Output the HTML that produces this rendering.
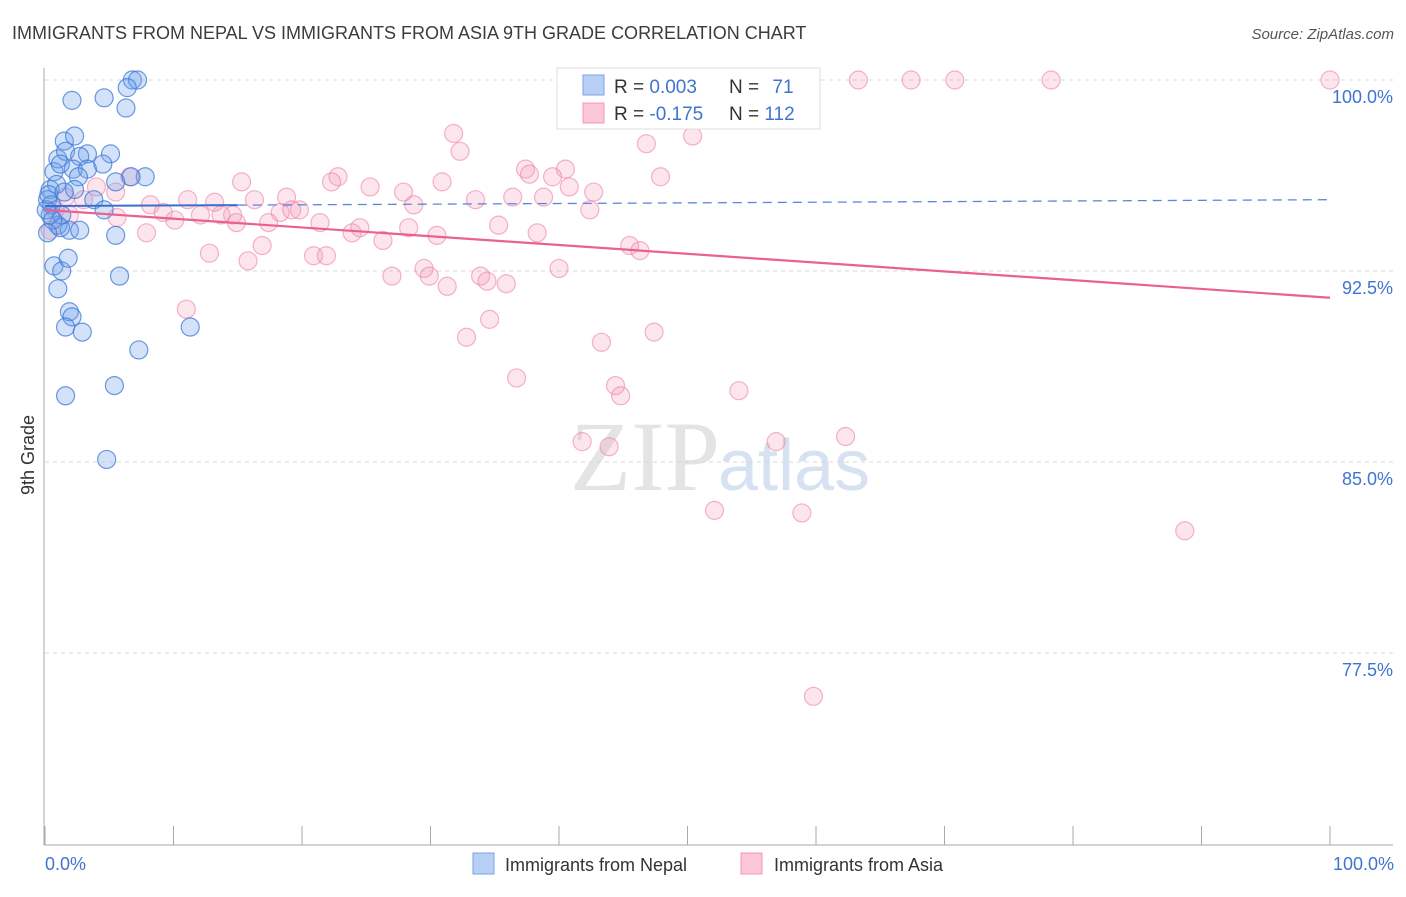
<!DOCTYPE html>
<html><head><meta charset="utf-8"><style>
body{margin:0;background:#fff;width:1406px;height:892px;overflow:hidden;font-family:"Liberation Sans",sans-serif;}
</style></head><body>
<svg id="chart" width="1406" height="892" xmlns="http://www.w3.org/2000/svg" font-family="Liberation Sans, sans-serif">
<text x="12" y="39" font-size="18" fill="#3c3c3c">IMMIGRANTS FROM NEPAL VS IMMIGRANTS FROM ASIA 9TH GRADE CORRELATION CHART</text>
<text x="1394" y="39" font-size="15" font-style="italic" fill="#555" text-anchor="end">Source: ZipAtlas.com</text>
<text x="720" y="490" font-size="100" font-family="Liberation Serif, serif" fill="#e4e4e4" text-anchor="end">ZIP</text>
<text x="718" y="490" font-size="72" fill="#d6e2f2">atlas</text>
<g id="grid"></g>
<g id="axes"></g>
<g id="pts"></g>
<g id="trends"></g>
<text transform="translate(34,455) rotate(-90)" font-size="18" fill="#333" text-anchor="middle">9th Grade</text>
<text x="45" y="870" font-size="18" fill="#3f74d0">0.0%</text>
<text x="1394" y="870" font-size="18" fill="#3f74d0" text-anchor="end">100.0%</text>
<g>
<rect x="557" y="68" width="263" height="61" fill="#fff" stroke="#ddd"/>
<rect x="583" y="75" width="21" height="20" fill="#b8d0f5" stroke="#7aa3e6"/>
<rect x="583" y="103" width="21" height="20" fill="#fbc7d7" stroke="#f19ab6"/>
<text x="614" y="93" font-size="19" fill="#333">R = <tspan fill="#3f74d0">0.003</tspan></text>
<text x="729" y="93" font-size="19" fill="#333">N = <tspan fill="#3f74d0" dx="8">71</tspan></text>
<text x="614" y="120" font-size="19" fill="#333">R = <tspan fill="#3f74d0">-0.175</tspan></text>
<text x="729" y="120" font-size="19" fill="#333">N = <tspan fill="#3f74d0">112</tspan></text>
</g>
<g>
<rect x="473" y="853" width="21" height="21" fill="#b8d0f5" stroke="#7aa3e6"/>
<text x="505" y="871" font-size="18" fill="#333">Immigrants from Nepal</text>
<rect x="741" y="853" width="21" height="21" fill="#fbc7d7" stroke="#f19ab6"/>
<text x="774" y="871" font-size="18" fill="#333">Immigrants from Asia</text>
</g>
</svg>
<script>
const yTicks=[100,92.5,85,77.5];
const yTickLabels=["100.0%","92.5%","85.0%","77.5%"];
const xTicks=[0,10,20,30,40,50,60,70,80,90,100];
const nepalX=[6.8,7.2,6.4,4.6,2.1,6.3,1.5,2.3,1.0,1.6,3.3,5.1,2.7,4.5,0.7,1.2,2.2,3.3,7.8,6.7,5.5,2.6,0.4,0.9,2.3,3.8,4.6,0.2,1.0,1.9,2.7,5.5,0.7,1.3,1.8,5.8,1.0,1.9,2.1,1.6,2.9,11.3,7.3,5.4,1.6,4.8,0.4,1.2,1.3,0.5,0.1,0.3,0.6,1.5,0.2];
const nepalY=[100.0,100.0,99.7,99.3,99.2,98.9,97.6,97.8,96.9,97.2,97.1,97.1,97.0,96.7,96.4,96.7,96.5,96.5,96.2,96.2,96.0,96.2,95.7,95.9,95.7,95.3,94.9,95.3,94.3,94.1,94.1,93.9,92.7,92.5,93.0,92.3,91.8,90.9,90.7,90.3,90.1,90.3,89.4,88.0,87.6,85.1,94.7,94.2,94.7,95.1,94.9,95.5,94.5,95.6,94.0];
const asiaX=[55.3,63.3,67.4,70.8,78.3,100,52.3,50.4,31.8,46.8,32.3,37.4,40.5,22.8,22.3,30.9,39.5,47.9,37.7,15.3,25.3,27.9,33.5,36.4,38.8,40.8,42.7,28.7,42.4,18.8,16.3,11.1,13.2,17.4,14.6,19.8,21.4,23.9,24.5,26.3,28.3,30.5,35.3,38.3,45.5,46.3,16.9,12.8,15.8,20.9,21.9,27.0,29.5,29.9,31.3,33.9,34.4,35.9,40.0,34.6,32.8,43.3,47.4,36.7,44.4,44.8,54.0,41.8,43.9,56.9,62.3,52.1,58.9,88.7,59.8,11.0,7.9,6.6,8.2,4.0,5.5,9.2,10.1,12.1,13.7,14.9,18.3,19.2,5.6,3.0,1.6,0.8,0.4,1.9];
const asiaY=[100,100,100,100,100,100,98.8,97.8,97.9,97.5,97.2,96.5,96.5,96.2,96.0,96.0,96.2,96.2,96.3,96.0,95.8,95.6,95.3,95.4,95.4,95.8,95.6,95.1,94.9,95.4,95.3,95.3,95.2,94.4,94.7,94.9,94.4,94.0,94.2,93.7,94.2,93.9,94.3,94.0,93.5,93.3,93.5,93.2,92.9,93.1,93.1,92.3,92.6,92.3,91.9,92.3,92.1,92.0,92.6,90.6,89.9,89.7,90.1,88.3,88.0,87.6,87.8,85.8,85.6,85.8,86.0,83.1,83.0,82.3,75.8,91.0,94.0,96.2,95.1,95.8,95.6,94.8,94.5,94.7,94.7,94.4,94.8,94.9,94.6,95.3,95.4,94.9,94.1,94.7];
const nepalTrend=[95.05,95.3];
const asiaTrend=[94.9,91.45];
const NS="http://www.w3.org/2000/svg";
const X0=45,X1=1330;
function xs(v){return X0+(X1-X0)*v/100;}
function ys(v){return 80+(100-v)*(191/7.5);}
function mk(tag,attrs,parent){const e=document.createElementNS(NS,tag);for(const k in attrs)e.setAttribute(k,attrs[k]);parent.appendChild(e);return e;}
const grid=document.getElementById('grid');
yTicks.forEach((t,i)=>{
  const l=mk('line',{x1:X0,x2:1393,y1:ys(t),y2:ys(t),stroke:'#d8d8d8','stroke-dasharray':'4,4'},grid);
  
  
  const tx=mk('text',{x:1393,y:ys(t)+23,'font-size':18,fill:'#3f74d0','text-anchor':'end'},grid);
  tx.textContent=yTickLabels[i];
  
  
});
const axes=document.getElementById('axes');
const ya=mk('line',{x1:44,x2:44,y1:68,y2:845,stroke:'#aaa'},axes);


const xa=mk('line',{x1:44,x2:1393,y1:845,y2:845,stroke:'#aaa'},axes);


xTicks.forEach(t=>{
  const l=mk('line',{x1:xs(t),x2:xs(t),y1:826,y2:845,stroke:'#aaa'},axes);
  
  
});
const pts=document.getElementById('pts');
asiaX.forEach((x,i)=>{
  const c=mk('circle',{cx:xs(x),cy:ys(asiaY[i]),r:9,fill:'rgba(244,150,180,0.25)',stroke:'rgba(236,130,165,0.6)','stroke-width':1.2},pts);
  
  
});
nepalX.forEach((x,i)=>{
  const c=mk('circle',{cx:xs(x),cy:ys(nepalY[i]),r:9,fill:'rgba(110,160,235,0.3)',stroke:'rgba(60,120,215,0.75)','stroke-width':1.2},pts);
  
  
});
const tr=document.getElementById('trends');
const nepalSplit=15;
const nyAt=p=>nepalTrend[0]+(nepalTrend[1]-nepalTrend[0])*p/100;
const nl1=mk('line',{x1:xs(0),y1:ys(nyAt(0)),x2:xs(nepalSplit),y2:ys(nyAt(nepalSplit)),stroke:'#3a6fd0','stroke-width':2},tr);


const nl2=mk('line',{x1:xs(nepalSplit),y1:ys(nyAt(nepalSplit)),x2:xs(100),y2:ys(nyAt(100)),stroke:'#5a88d8','stroke-width':1.3,'stroke-dasharray':'9,6'},tr);


const al=mk('line',{x1:xs(0),y1:ys(asiaTrend[0]),x2:xs(100),y2:ys(asiaTrend[1]),stroke:'#e8618f','stroke-width':2.2},tr);


</script>
</body></html>
